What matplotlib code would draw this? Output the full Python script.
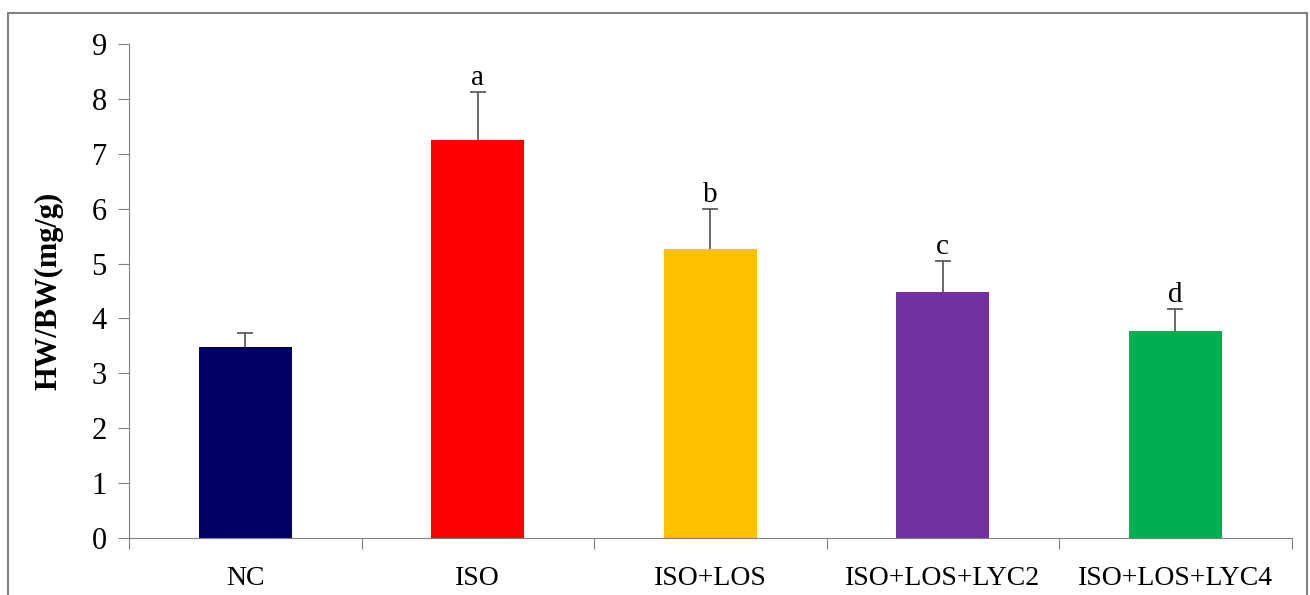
import numpy as np
import matplotlib.pyplot as plt
from matplotlib.patches import Rectangle

groups = ['NC', 'ISO', 'ISO+LOS', 'ISO+LOS+LYC2', 'ISO+LOS+LYC4']
means = [3.48, 7.25, 5.26, 4.48, 3.77]
errs = [0.25, 0.87, 0.73, 0.57, 0.40]
letters = ['', 'a', 'b', 'c', 'd']
colors = ['#000066', '#ff0000', '#ffc000', '#7030a0', '#00b050']

plt.rcParams['font.family'] = ['Liberation Serif', 'DejaVu Serif']

fig = plt.figure(figsize=(13.1, 5.95), dpi=100)
ax = fig.add_axes([0.0985, 0.0958, 0.8875, 0.8302])

x = np.arange(len(groups))
ax.bar(x, means, width=0.4, color=colors, zorder=2)
eb = ax.errorbar(x, means, yerr=[np.zeros(len(errs)), errs], fmt='none',
                 ecolor='#505050', elinewidth=1.2, capsize=5.5, capthick=1.2, zorder=3)
eb[1][0].set_visible(False)  # hide lower caps, plus-only error bars
for xi, m, e, t in zip(x, means, errs, letters):
    if t:
        ax.text(xi, m + e + 0.02, t, ha='center', va='bottom', fontsize=21)

ax.set_xlim(-0.5, len(groups) - 0.5)
ax.set_ylim(0, 9)
ax.set_yticks(range(0, 10))
ax.set_xticks(np.arange(-0.5, len(groups), 1.0))
ax.set_xticklabels([])
ax.set_xticks(x, minor=True)
ax.set_xticklabels(groups, minor=True, fontsize=20)
ax.tick_params(axis='x', which='minor', length=0, pad=20)
ax.tick_params(axis='x', which='major', direction='out', length=8, color='#808080')
ax.tick_params(axis='y', direction='out', length=8, color='#808080', labelsize=22, pad=8)
for s in ['top', 'right']:
    ax.spines[s].set_visible(False)
for s in ['left', 'bottom']:
    ax.spines[s].set_color('#808080')
ax.set_ylabel('HW/BW(mg/g)', fontsize=22, fontweight='bold', labelpad=20)

fig.patches.append(Rectangle((0.006, -0.01), 0.992, 0.988, transform=fig.transFigure,
                             fill=False, edgecolor='#808080', linewidth=1.5))

fig.savefig('out.png', dpi=100)
